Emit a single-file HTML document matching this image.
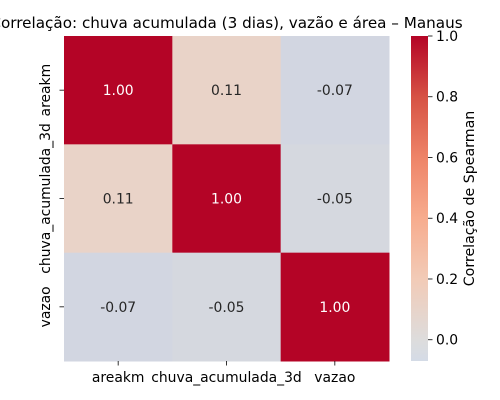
<!DOCTYPE html>
<html><head><meta charset="utf-8"><style>
body{margin:0;background:#fff}
svg{display:block;font-family:"DejaVu Sans","Liberation Sans",sans-serif}
</style></head><body>
<svg id="c" width="500" height="400" viewBox="0 0 500 400">
<rect width="500" height="400" fill="#fff"/>
<defs><linearGradient id="cg" x1="0" y1="1" x2="0" y2="0">
<stop offset="0" stop-color="#d4dbe6"/>
<stop offset="0.065" stop-color="#dddcdc"/>
<stop offset="0.252" stop-color="#f2cbb7"/>
<stop offset="0.439" stop-color="#f7ac8e"/>
<stop offset="0.626" stop-color="#ee8468"/>
<stop offset="0.813" stop-color="#d65244"/>
<stop offset="1" stop-color="#b40426"/>
</linearGradient></defs>
<text x="226.5" y="28" font-size="15.2" text-anchor="middle" fill="#000">Correlação: chuva acumulada (3 dias), vazão e área – Manaus</text>
<g id="cells"></g>
<g id="axes"></g>
<rect x="411" y="36" width="17" height="325" fill="url(#cg)"/>
<g id="cbar"></g>
<text transform="translate(474,198.5) rotate(-90)" font-size="14.2" text-anchor="middle" fill="#000">Correlação de Spearman</text>
</svg>
<script>
const labels = ["areakm","chuva_acumulada_3d","vazao"];
const row0 = [1.00, 0.11, -0.07];
const row1 = [0.11, 1.00, -0.05];
const row2 = [-0.07, -0.05, 1.00];
const cbTicks = [0.0, 0.2, 0.4, 0.6, 0.8, 1.0];
const vmin = -0.07, vmax = 1.0;

const NS="http://www.w3.org/2000/svg";
const X0=64, Y0=36, W=325, H=325;
const FS=13.9;
const matrix=[row0,row1,row2];
const n=labels.length, cw=W/n, ch=H/n;
const stops=[[0,[59,76,192]],[0.25,[141,176,254]],[0.5,[221,220,220]],[0.6,[242,203,183]],[0.7,[247,172,142]],[0.8,[238,132,104]],[0.9,[214,82,68]],[1,[180,4,38]]];
function color(v){
  let t=(v+1)/2; t=Math.max(0,Math.min(1,t));
  for(let i=1;i<stops.length;i++){ if(t<=stops[i][0]){const a=stops[i-1],b=stops[i],f=(t-a[0])/(b[0]-a[0]);
    return "rgb("+a[1].map((c,k)=>Math.round(c+(b[1][k]-c)*f)).join(",")+")";}}
  return "rgb(180,4,38)";
}
function mk(tag,attrs,parent){const e=document.createElementNS(NS,tag);for(const k in attrs)e.setAttribute(k,attrs[k]);parent.appendChild(e);return e;}
const cells=document.getElementById('cells'), axes=document.getElementById('axes'), cbar=document.getElementById('cbar');
matrix.forEach((row,i)=>row.forEach((v,j)=>{
  const r=mk('rect',{x:X0+j*cw,y:Y0+i*ch,width:cw+0.5,height:ch+0.5,fill:color(v)},cells);
  
  
  const t=mk('text',{x:X0+(j+0.5)*cw,y:Y0+(i+0.5)*ch+5,'font-size':FS,'text-anchor':'middle',fill:v>0.5?'#fff':'#262626'},cells);
  t.textContent=v.toFixed(2);
  
  
}));
labels.forEach((l,i)=>{
  const c=X0+(i+0.5)*cw;
  mk('line',{x1:c,y1:Y0+H,x2:c,y2:Y0+H+4.5,stroke:'#000','stroke-width':0.8},axes);
  const tx=mk('text',{x:c,y:Y0+H+21,'font-size':FS,'text-anchor':'middle',fill:'#000'},axes);
  tx.textContent=l;
  
  
  const cy=Y0+(i+0.5)*ch;
  mk('line',{x1:X0-4.5,y1:cy,x2:X0,y2:cy,stroke:'#000','stroke-width':0.8},axes);
  const ty=mk('text',{transform:'translate('+(X0-14)+','+cy+') rotate(-90)','font-size':FS,'text-anchor':'middle',fill:'#000'},axes);
  ty.textContent=l;
  
  
});
cbTicks.forEach(v=>{
  const y=Y0+H-(v-vmin)/(vmax-vmin)*H;
  mk('line',{x1:428,y1:y,x2:432.5,y2:y,stroke:'#000','stroke-width':0.8},cbar);
  const t=mk('text',{x:436,y:y+5,'font-size':FS,fill:'#000'},cbar);
  t.textContent=v.toFixed(1);
  
  
});
</script>
</body></html>
